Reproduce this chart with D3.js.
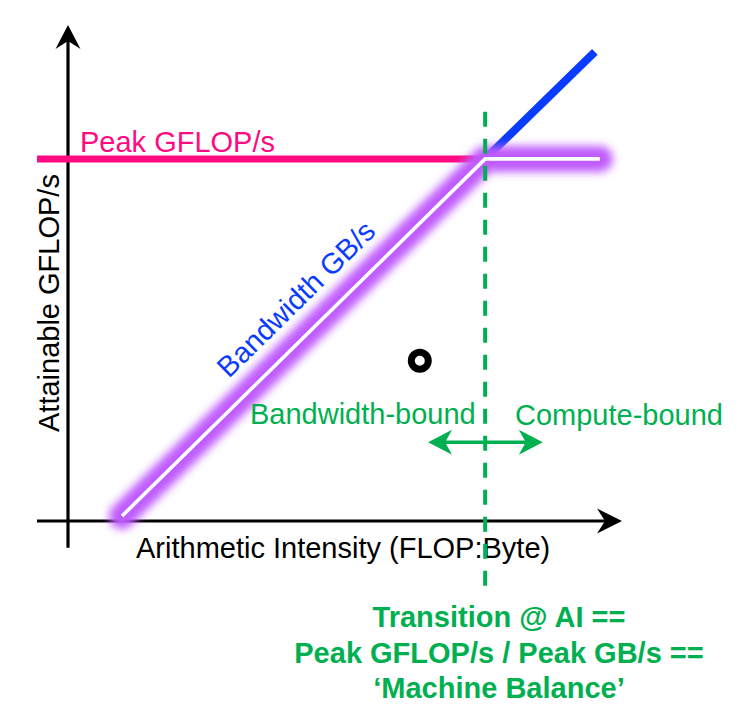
<!DOCTYPE html>
<html><head><meta charset="utf-8">
<script src="https://cdn.jsdelivr.net/npm/d3@7"></script>
<style>body{margin:0;background:#fff}</style>
</head><body>
<svg id="c" width="754" height="716"></svg>
<script>
// ---- diagram data (abstract units, 0–100 on each axis) ----
const peakGflops = 73;          // height of the compute roof
const ridgeAI = 75.3;           // machine balance (transition AI)
const rooflinePts = [[9.75, 1], [ridgeAI, peakGflops], [96, peakGflops]];
const peakLinePts = [[-5.6, peakGflops], [ridgeAI, peakGflops]];
const bandwidthExtPts = [[ridgeAI, peakGflops], [95.1, 94.6]];
const kernelPoint = [63.5, 32.3];
const regimeArrowX = [65, 85.7];
const regimeArrowY = 15.9;
const xAxisExtent = [-5.6, 100];
const yAxisExtent = [-5.4, 100];
const ridgeDashExtent = [-13.9, 82.5];
const axisTitles = ["Arithmetic Intensity (FLOP:Byte)", "Attainable GFLOP/s"];
const lineLabels = ["Peak GFLOP/s", "Bandwidth GB/s"];
const regimeLabels = ["Bandwidth-bound", "Compute-bound"];
const noteLines = ["Transition @ AI ==", "Peak GFLOP/s / Peak GB/s ==", "\u2018Machine Balance\u2019"];

const svg = d3.select("#c");
const x = d3.scaleLinear().domain([0, 100]).range([68, 622]);
const y = d3.scaleLinear().domain([0, 100]).range([521, 25]);
const line = d3.line().x(d => x(d[0])).y(d => y(d[1]));
const FONT = "'Liberation Sans', Arial, Helvetica, sans-serif";
const GREEN = "#00b050", PINK = "#ff0a80", BLUE = "#0a3cff";

const defs = svg.append("defs");
defs.append("filter").attr("id", "glow")
  .attr("x", "-20%").attr("y", "-20%").attr("width", "140%").attr("height", "140%")
  .append("feGaussianBlur").attr("stdDeviation", 4);

function arrowHead(tx, ty, ang, len, half, notch, color) {
  const c = Math.cos(ang), s = Math.sin(ang);
  const pt = (a, b) => [tx + a * c - b * s, ty + a * s + b * c];
  const p = [pt(0, 0), pt(-len, -half), pt(-notch, 0), pt(-len, half)];
  svg.append("path").attr("d", "M" + p.map(q => q.join(",")).join("L") + "Z").attr("fill", color);
}

// axes
svg.append("line").attr("x1", x(xAxisExtent[0])).attr("x2", x(xAxisExtent[1]) - 14)
  .attr("y1", y(0)).attr("y2", y(0)).attr("stroke", "#000").attr("stroke-width", 3.2);
arrowHead(x(xAxisExtent[1]), y(0), 0, 25, 12.5, 17, "#000");
svg.append("line").attr("x1", x(0)).attr("x2", x(0))
  .attr("y1", y(yAxisExtent[0])).attr("y2", y(yAxisExtent[1]) + 14)
  .attr("stroke", "#000").attr("stroke-width", 3.2);
arrowHead(x(0), y(yAxisExtent[1]), -Math.PI / 2, 24, 12.5, 16, "#000");

// peak compute line
svg.append("path").attr("d", line(peakLinePts)).attr("fill", "none")
  .attr("stroke", PINK).attr("stroke-width", 7);
// bandwidth extension
svg.append("path").attr("d", line(bandwidthExtPts)).attr("fill", "none")
  .attr("stroke", BLUE).attr("stroke-width", 8);

// glowing roofline
svg.append("path").attr("d", line(rooflinePts)).attr("fill", "none")
  .attr("stroke", "#c05cff").attr("stroke-width", 26)
  .attr("stroke-linecap", "round").attr("stroke-linejoin", "round")
  .attr("filter", "url(#glow)");
svg.append("path").attr("d", line(rooflinePts)).attr("fill", "none")
  .attr("stroke", "#fff").attr("stroke-width", 3.6).attr("stroke-linejoin", "miter");

// kernel point
svg.append("circle").attr("cx", x(kernelPoint[0])).attr("cy", y(kernelPoint[1]))
  .attr("r", 8.5).attr("fill", "none").attr("stroke", "#000").attr("stroke-width", 7);

// regime arrow
svg.append("line").attr("x1", x(regimeArrowX[0]) + 14).attr("x2", x(regimeArrowX[1]) - 14)
  .attr("y1", y(regimeArrowY)).attr("y2", y(regimeArrowY))
  .attr("stroke", GREEN).attr("stroke-width", 3.5);
arrowHead(x(regimeArrowX[0]), y(regimeArrowY), Math.PI, 24, 12.5, 17, GREEN);
arrowHead(x(regimeArrowX[1]), y(regimeArrowY), 0, 24, 12.5, 17, GREEN);

// texts
const t = (txt, px, py, opts = {}) => svg.append("text").text(txt)
  .attr("x", px).attr("y", py).attr("font-family", FONT)
  .attr("font-size", opts.size || 29).attr("fill", opts.fill || "#000")
  .attr("font-weight", opts.weight || "normal")
  .attr("text-anchor", opts.anchor || "start")
  .attr("transform", opts.rot != null ? `rotate(${opts.rot},${px},${py})` : null);

t(lineLabels[0], 80, 152, { fill: PINK });
const ang = Math.atan2(y(rooflinePts[1][1]) - y(rooflinePts[0][1]), x(rooflinePts[1][0]) - x(rooflinePts[0][0])) * 180 / Math.PI;
t(lineLabels[1], 303, 306, { fill: BLUE, anchor: "middle", rot: ang });
t(axisTitles[1], 59, 432, { rot: -90 });
t(axisTitles[0], 136, 558);
t(regimeLabels[0], 250, 424, { fill: GREEN });
t(regimeLabels[1], 515, 425, { fill: GREEN });
noteLines.forEach((s, i) => t(s, 499, 627 + i * 35.5, { fill: GREEN, weight: "bold", anchor: "middle" }));

// ridge (machine balance) dashed line, on top
svg.append("line").attr("x1", x(ridgeAI)).attr("x2", x(ridgeAI))
  .attr("y1", y(ridgeDashExtent[1])).attr("y2", y(ridgeDashExtent[0]))
  .attr("stroke", GREEN).attr("stroke-width", 4).attr("stroke-dasharray", "15,12");
</script>
</body></html>
